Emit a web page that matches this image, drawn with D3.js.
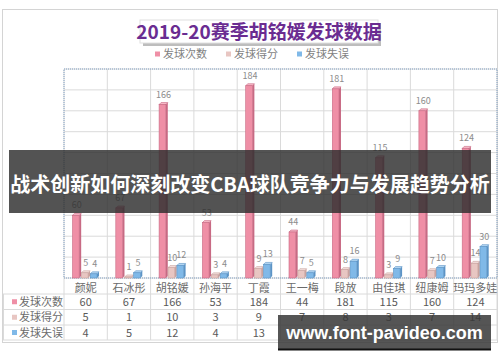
<!DOCTYPE html>
<html>
<head>
<meta charset="utf-8">
<script src="https://cdn.jsdelivr.net/npm/d3@7"></script>
<style>
  body { margin: 0; background: #fff; }
  text { font-family: "Noto Sans CJK SC", "Noto Sans", sans-serif; }
</style>
</head>
<body>
<svg id="chart" width="500" height="362"></svg>
<script>
// data
var players = ["颜妮", "石冰彤", "胡铭媛", "孙海平", "丁霞", "王一梅", "段放", "由佳琪", "纽康姆", "玛玛多娃"];
var seriesNames = ["发球次数", "发球得分", "发球失误"];
var serveCount = [60, 67, 166, 53, 184, 44, 181, 115, 160, 124];
var serveScore = [5, 1, 10, 3, 9, 7, 8, 3, 7, 14];
var serveError = [4, 5, 12, 4, 13, 5, 16, 9, 10, 30];
var yTicks = [0, 20, 40, 60, 80, 100, 120, 140, 160, 180, 200];

var seriesValues = [serveCount, serveScore, serveError];
var colors = ["#ef8fa6", "#e8c6c2", "#80b9e8"];
var sideColors = ["#c86a84", "#c9a39f", "#5c94c6"];
var topColors = ["#f7b9c7", "#f3dedb", "#b5d7f3"];

var svg = d3.select("#chart");

// plot area
var plot = {left: 64, right: 497, top: 69, bottom: 278};
var tableRows = [294, 309.5, 325, 340];

var x = d3.scaleBand()
  .domain(players)
  .range([plot.left, plot.right]);

var xs = d3.scaleBand()
  .domain(seriesNames)
  .range([8.5, 33])
  .paddingInner(0.25);

var y = d3.scaleLinear()
  .domain([0, 200])
  .range([plot.bottom, plot.top]);

// outer frame
svg.append("rect")
  .attr("x", 2.5).attr("y", 9.5)
  .attr("width", 495).attr("height", 333)
  .attr("fill", "#fff")
  .attr("stroke", "#d4d4d4");

// horizontal gridlines
svg.append("g")
  .selectAll("line")
  .data(yTicks)
  .enter()
  .append("line")
  .attr("x1", plot.left).attr("x2", plot.right)
  .attr("y1", function(d) { return y(d); })
  .attr("y2", function(d) { return y(d); })
  .attr("stroke", "#dadada");

// vertical gridlines through the table
var edges = players.map(function(d) { return x(d); }).concat([plot.right]);
svg.append("g")
  .selectAll("line")
  .data(edges)
  .enter()
  .append("line")
  .attr("x1", function(d) { return d; })
  .attr("x2", function(d) { return d; })
  .attr("y1", plot.top).attr("y2", tableRows[3])
  .attr("stroke", "#dadada");

// table row lines
svg.append("g")
  .selectAll("line")
  .data(tableRows)
  .enter()
  .append("line")
  .attr("x1", 3).attr("x2", plot.right)
  .attr("y1", function(d) { return d; })
  .attr("y2", function(d) { return d; })
  .attr("stroke", "#dadada");
svg.append("line")
  .attr("x1", 3.5).attr("x2", 3.5)
  .attr("y1", tableRows[0]).attr("y2", tableRows[3])
  .attr("stroke", "#dadada");

// dotted plot-area selection border
svg.append("rect")
  .attr("x", plot.left).attr("y", plot.top)
  .attr("width", plot.right - plot.left)
  .attr("height", plot.bottom - plot.top)
  .attr("fill", "none")
  .attr("stroke", "#7f9fc4")
  .attr("stroke-dasharray", "1,1");

// bars with a small 3d look
var depth = 2;
seriesNames.forEach(function(s, si) {
  var g = svg.append("g");
  var groups = g.selectAll("g")
    .data(seriesValues[si])
    .enter()
    .append("g");

  groups.append("path")
    .attr("fill", sideColors[si])
    .attr("d", function(d, i) {
      var x0 = x(players[i]) + xs(s) + xs.bandwidth(), y0 = y(d);
      return "M" + x0 + "," + y0 + "L" + (x0 + depth) + "," + (y0 - depth) +
        "L" + (x0 + depth) + "," + (plot.bottom - depth) + "L" + x0 + "," + plot.bottom + "Z";
    });

  groups.append("path")
    .attr("fill", topColors[si])
    .attr("stroke", sideColors[si])
    .attr("stroke-width", 0.6)
    .attr("d", function(d, i) {
      var x0 = x(players[i]) + xs(s), y0 = y(d), w = xs.bandwidth();
      return "M" + x0 + "," + y0 + "L" + (x0 + depth) + "," + (y0 - depth) +
        "L" + (x0 + w + depth) + "," + (y0 - depth) + "L" + (x0 + w) + "," + y0 + "Z";
    });

  groups.append("rect")
    .attr("x", function(d, i) { return x(players[i]) + xs(s); })
    .attr("y", function(d) { return y(d); })
    .attr("width", xs.bandwidth())
    .attr("height", function(d) { return plot.bottom - y(d); })
    .attr("fill", colors[si])
    .attr("stroke", sideColors[si])
    .attr("stroke-width", 0.6);

  groups.append("text")
    .attr("x", function(d, i) { return x(players[i]) + xs(s) + xs.bandwidth() / 2 + 1; })
    .attr("y", function(d) { return y(d) - 7; })
    .attr("text-anchor", "middle")
    .attr("font-size", 9)
    .attr("fill", "#8c8c8c")
    .text(function(d) { return d; });
});

// category labels
svg.append("g")
  .selectAll("text")
  .data(players)
  .enter()
  .append("text")
  .attr("x", function(d) { return x(d) + x.bandwidth() / 2; })
  .attr("y", 292)
  .attr("text-anchor", "middle")
  .attr("font-size", 11)
  .attr("fill", "#6b6b6b")
  .text(function(d) { return d; });

// data table
seriesNames.forEach(function(s, si) {
  var cy = (tableRows[si] + tableRows[si + 1]) / 2;
  svg.append("rect")
    .attr("x", 12).attr("y", cy - 2.5)
    .attr("width", 5).attr("height", 5)
    .attr("fill", colors[si]);
  svg.append("text")
    .attr("x", 19).attr("y", cy + 4)
    .attr("font-size", 11)
    .attr("fill", "#6b6b6b")
    .text(s);
  svg.append("g")
    .selectAll("text")
    .data(seriesValues[si])
    .enter()
    .append("text")
    .attr("x", function(d, i) { return x(players[i]) + x.bandwidth() / 2; })
    .attr("y", cy + 4)
    .attr("text-anchor", "middle")
    .attr("font-size", 11)
    .attr("fill", "#595959")
    .text(function(d) { return d; });
});

// legend
var legend = svg.append("g")
  .selectAll("g")
  .data(seriesNames)
  .enter()
  .append("g")
  .attr("transform", function(d, i) { return "translate(" + (155 + i * 71) + ",54)"; });
legend.append("rect")
  .attr("x", 0).attr("y", -2.5)
  .attr("width", 5).attr("height", 5)
  .attr("fill", function(d, i) { return colors[i]; });
legend.append("text")
  .attr("x", 8).attr("y", 4)
  .attr("font-size", 11)
  .attr("fill", "#7f7f7f")
  .text(function(d) { return d; });

// title box
svg.append("rect")
  .attr("x", 143).attr("y", 23)
  .attr("width", 238).attr("height", 23)
  .attr("fill", "#bdbdbd");
svg.append("rect")
  .attr("x", 140).attr("y", 20)
  .attr("width", 238).attr("height", 23)
  .attr("fill", "#fff")
  .attr("stroke", "#e0e0e0");
svg.append("text")
  .attr("x", 259).attr("y", 38.5)
  .attr("text-anchor", "middle")
  .attr("font-size", 19)
  .attr("font-weight", "bold")
  .attr("fill", "#6a2c91")
  .text("2019-20赛季胡铭媛发球数据");

// banner overlay
svg.append("rect")
  .attr("x", 9).attr("y", 150)
  .attr("width", 482).attr("height", 63)
  .attr("fill", "rgba(45,45,45,0.82)");
svg.append("text")
  .attr("x", 250).attr("y", 192)
  .attr("text-anchor", "middle")
  .attr("font-size", 20)
  .attr("font-weight", "bold")
  .attr("fill", "#fff")
  .text("战术创新如何深刻改变CBA球队竞争力与发展趋势分析");

// watermark
svg.append("rect")
  .attr("x", 278).attr("y", 315)
  .attr("width", 213).attr("height", 35)
  .attr("fill", "rgba(55,55,55,0.85)");
svg.append("rect")
  .attr("x", 278).attr("y", 348.5)
  .attr("width", 213).attr("height", 2)
  .attr("fill", "#111");
svg.append("text")
  .attr("x", 384.5).attr("y", 339)
  .attr("text-anchor", "middle")
  .attr("font-size", 18)
  .attr("font-weight", "bold")
  .attr("fill", "#fff")
  .style("font-family", "'Liberation Sans', Arial, sans-serif")
  .text("www.font-pavideo.com");
</script>
</body>
</html>
